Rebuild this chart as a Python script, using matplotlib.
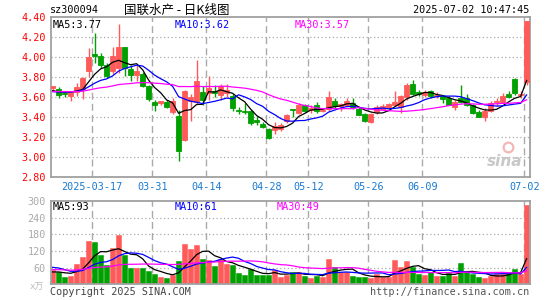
import matplotlib
matplotlib.use("Agg")
import matplotlib.pyplot as plt
import numpy as np
import pandas as pd

# ---------------- data ----------------
dates = ["03-06", "03-07", "03-10", "03-11", "03-12", "03-13", "03-14", "03-17", "03-18", "03-19",
         "03-20", "03-21", "03-24", "03-25", "03-26", "03-27", "03-28", "03-31", "04-01", "04-02",
         "04-03", "04-07", "04-08", "04-09", "04-10", "04-11", "04-14", "04-15", "04-16", "04-17",
         "04-18", "04-21", "04-22", "04-23", "04-24", "04-25", "04-28", "04-29", "04-30", "05-06",
         "05-07", "05-08", "05-09", "05-12", "05-13", "05-14", "05-15", "05-16", "05-19", "05-20",
         "05-21", "05-22", "05-23", "05-26", "05-27", "05-28", "05-29", "05-30", "06-03", "06-04",
         "06-05", "06-06", "06-09", "06-10", "06-11", "06-12", "06-13", "06-16", "06-17", "06-18",
         "06-19", "06-20", "06-23", "06-24", "06-25", "06-26", "06-27", "06-30", "07-01", "07-02"]

open_ = [3.69, 3.68, 3.64, 3.61, 3.65, 3.68, 3.86, 4.03, 4.01, 3.92,
         3.86, 3.89, 4.10, 3.88, 3.82, 3.83, 3.71, 3.55, 3.54, 3.55,
         3.45, 3.41, 3.17, 3.56, 3.55, 3.65, 3.64, 3.66, 3.62, 3.64,
         3.61, 3.47, 3.46, 3.46, 3.37, 3.33, 3.28, 3.27, 3.28, 3.36,
         3.48, 3.44, 3.52, 3.47, 3.52, 3.46, 3.48, 3.56, 3.51, 3.52,
         3.54, 3.48, 3.43, 3.35, 3.45, 3.48, 3.49, 3.52, 3.50, 3.60,
         3.73, 3.65, 3.62, 3.66, 3.61, 3.61, 3.59, 3.50, 3.59, 3.59,
         3.52, 3.45, 3.40, 3.46, 3.55, 3.55, 3.63, 3.78, 3.62, 3.75]
high = [3.71, 3.70, 3.66, 3.66, 3.74, 3.80, 4.09, 4.24, 4.04, 3.94,
        4.10, 4.33, 4.10, 3.92, 3.92, 3.85, 3.72, 3.57, 3.56, 3.57,
        3.59, 3.47, 3.67, 3.63, 3.97, 3.71, 3.81, 3.72, 3.73, 3.73,
        3.63, 3.50, 3.54, 3.47, 3.41, 3.35, 3.29, 3.35, 3.34, 3.43,
        3.48, 3.54, 3.53, 3.52, 3.55, 3.49, 3.66, 3.59, 3.54, 3.59,
        3.59, 3.50, 3.44, 3.44, 3.52, 3.53, 3.54, 3.66, 3.62, 3.74,
        3.77, 3.67, 3.67, 3.67, 3.65, 3.62, 3.61, 3.57, 3.72, 3.63,
        3.53, 3.47, 3.49, 3.56, 3.59, 3.64, 3.66, 3.79, 3.66, 4.36]
low = [3.66, 3.59, 3.60, 3.56, 3.61, 3.58, 3.80, 3.94, 3.89, 3.79,
       3.83, 3.84, 3.81, 3.76, 3.76, 3.70, 3.56, 3.46, 3.52, 3.49,
       3.43, 2.96, 3.16, 3.36, 3.53, 3.52, 3.57, 3.60, 3.57, 3.60,
       3.46, 3.43, 3.43, 3.32, 3.32, 3.29, 3.18, 3.23, 3.26, 3.34,
       3.40, 3.43, 3.45, 3.44, 3.44, 3.45, 3.46, 3.49, 3.46, 3.51,
       3.48, 3.42, 3.35, 3.34, 3.43, 3.47, 3.48, 3.51, 3.44, 3.57,
       3.62, 3.61, 3.60, 3.59, 3.59, 3.54, 3.52, 3.47, 3.54, 3.51,
       3.43, 3.40, 3.36, 3.45, 3.51, 3.54, 3.59, 3.62, 3.59, 3.72]
close = [3.71, 3.62, 3.63, 3.65, 3.70, 3.79, 4.00, 4.01, 3.92, 3.81,
         4.01, 4.10, 3.89, 3.82, 3.86, 3.71, 3.58, 3.52, 3.56, 3.50,
         3.56, 3.06, 3.66, 3.60, 3.76, 3.57, 3.69, 3.64, 3.71, 3.67,
         3.49, 3.46, 3.45, 3.34, 3.35, 3.30, 3.19, 3.31, 3.32, 3.42,
         3.47, 3.52, 3.46, 3.49, 3.46, 3.47, 3.60, 3.51, 3.53, 3.56,
         3.50, 3.42, 3.36, 3.43, 3.50, 3.51, 3.53, 3.55, 3.61, 3.72,
         3.63, 3.63, 3.65, 3.61, 3.62, 3.58, 3.52, 3.55, 3.55, 3.52,
         3.44, 3.40, 3.46, 3.54, 3.56, 3.61, 3.60, 3.64, 3.63, 4.36]
volume = [53, 45, 27, 31, 73, 99, 157, 154, 107, 70,
          131, 179, 105, 59, 59, 59, 49, 39, 27, 23,
          35, 85, 147, 129, 140, 93, 89, 65, 91, 73,
          71, 41, 33, 55, 35, 35, 35, 53, 27, 35,
          45, 45, 31, 23, 31, 27, 91, 63, 45, 45,
          31, 25, 25, 23, 37, 27, 27, 88, 63, 84,
          63, 39, 33, 45, 31, 31, 41, 31, 77, 49,
          36, 25, 22, 31, 37, 37, 45, 57, 37, 287]

# estimated sessions before the visible window (only feed the moving averages)
prev_close = [3.62, 3.64, 3.66, 3.70, 3.68, 3.65, 3.63, 3.60, 3.62, 3.66,
              3.69, 3.71, 3.68, 3.66, 3.64, 3.62, 3.65, 3.67, 3.70, 3.68,
              3.66, 3.64, 3.63, 3.65, 3.66, 3.67, 3.65, 3.64, 3.66]
prev_volume = [48, 52, 60, 45, 40, 55, 62, 50, 47, 44,
               58, 46, 52, 49, 41, 46, 53, 42, 38, 48,
               70, 85, 90, 72, 73, 45, 42, 40, 44]

tick_dates = ["03-17", "03-31", "04-14", "04-28", "05-12", "05-26", "06-09", "07-02"]
tick_labels = ["2025-03-17", "03-31", "04-14", "04-28", "05-12", "05-26", "06-09", "07-02"]
price_ticks = [2.80, 3.00, 3.20, 3.40, 3.60, 3.80, 4.00, 4.20, 4.40]
vol_ticks = [60, 120, 180, 240, 300]

# ---------------- styling ----------------
UP = "#ff5a5a"
DOWN = "#00a000"
MA_COLORS = {5: "black", 10: "#0000ff", 30: "#ff00ff"}
GRID = "#aaaaaa"
FRAME = "#a0a0a0"
MONO = "DejaVu Sans Mono"
FS = 7.3

W, H = 545, 300
fig = plt.figure(figsize=(W / 100, H / 100), dpi=100)
fig.patch.set_facecolor("white")


def fx(x):
    return x / W


def fy(y):
    return 1 - y / H


ax = fig.add_axes([fx(50.5), fy(177.3), 479 / W, 160 / H])
axv = fig.add_axes([fx(50.5), fy(284.4), 479 / W, 83.4 / H])

n = len(close)
x = np.arange(n)
o = np.array(open_)
c = np.array(close)
hi = np.array(high)
lo = np.array(low)
v = np.array(volume)
colors = [UP if cc >= oo else DOWN for oo, cc in zip(o, c)]

full_close = pd.Series(prev_close + close)
full_vol = pd.Series(prev_volume + volume)
off = len(prev_close)
ma_p = {k: full_close.rolling(k).mean().values[off:] for k in (5, 10, 30)}
ma_v = {k: full_vol.rolling(k).mean().values[off:] for k in (5, 10, 30)}

tick_pos = [dates.index(d) - 0.4 for d in tick_dates]
xlim = (-0.35, n - 1 + 0.48)

for a in (ax, axv):
    a.set_xlim(*xlim)
    a.set_facecolor("white")
    for s in a.spines.values():
        s.set_color(FRAME)
        s.set_linewidth(1.3)
    a.tick_params(length=0)
    a.set_axisbelow(True)

# ---- price panel ----
ax.set_ylim(2.80, 4.40)
for yv in price_ticks[1:-1]:
    ax.axhline(yv, color=GRID, lw=0.9, ls=(0, (1, 2)), zorder=0)
for tp in tick_pos:
    ax.axvline(tp, color=GRID, lw=1.0, ls=(0, (5, 3)), zorder=0)

ax.vlines(x, lo, hi, colors=colors, lw=1.0, zorder=2)
ax.bar(x, np.abs(c - o), bottom=np.minimum(o, c), width=0.8, color=colors,
       edgecolor=colors, linewidth=0.6, zorder=3)
for i in range(n):
    if abs(c[i] - o[i]) < 0.005:
        ax.hlines(c[i], i - 0.4, i + 0.4, colors=colors[i], lw=1.0, zorder=3)

for k in (5, 10, 30):
    ax.plot(x, ma_p[k], color=MA_COLORS[k], lw=0.9, zorder=4)

ax.set_yticks(price_ticks)
ax.set_yticklabels([f"{t:.2f}" for t in price_ticks], color="#ff0000",
                   fontfamily=MONO, fontsize=FS)
ax.tick_params(axis="y", pad=3.3)
ax.set_xticks(tick_pos)
ax.set_xticklabels(tick_labels, color="#1a7ad0", fontfamily=MONO, fontsize=FS)
ax.tick_params(axis="x", pad=3.6)

ax.text(0.005, 0.955, f"MA5:{ma_p[5][-1]:.2f}", transform=ax.transAxes,
        color="black", fontfamily=MONO, fontsize=FS, va="center", ha="left")
ax.text((175 - 50.5) / 479, 0.955, f"MA10:{ma_p[10][-1]:.2f}", transform=ax.transAxes,
        color="#0000ff", fontfamily=MONO, fontsize=FS, va="center", ha="left")
ax.text((295 - 50.5) / 479, 0.955, f"MA30:{ma_p[30][-1]:.2f}", transform=ax.transAxes,
        color="#ff00ff", fontfamily=MONO, fontsize=FS, va="center", ha="left")

# sina watermark
ax.text(0.985, 0.05, "sina", transform=ax.transAxes, ha="right", va="bottom",
        fontsize=11, fontweight="bold", fontstyle="italic", color="#c8c8c8",
        fontfamily="DejaVu Sans", zorder=1)
ax.plot([0.955], [0.19], transform=ax.transAxes, marker="o", ms=7, mfc="none",
        mec="#f2b8b8", mew=1.6, zorder=1)

# ---- volume panel ----
axv.set_ylim(0, 300)
for yv in vol_ticks[:-1]:
    axv.axhline(yv, color=GRID, lw=0.9, ls=(0, (1, 2)), zorder=0)
for tp in tick_pos:
    axv.axvline(tp, color=GRID, lw=1.0, ls=(0, (5, 3)), zorder=0)
axv.bar(x, v, width=0.8, color=colors, edgecolor=colors, linewidth=0.4, zorder=2)
for k in (5, 10, 30):
    axv.plot(x, ma_v[k], color=MA_COLORS[k], lw=0.9, zorder=4)
axv.set_yticks(vol_ticks)
axv.set_yticklabels([str(t) for t in vol_ticks], color="#aaaaaa",
                    fontfamily=MONO, fontsize=FS)
axv.tick_params(axis="y", pad=3.3)
axv.set_xticks(tick_pos)
axv.set_xticklabels([])

axv.text(0.005, 0.93, f"MA5:{ma_v[5][-1]:.0f}", transform=axv.transAxes,
         color="black", fontfamily=MONO, fontsize=FS, va="center", ha="left")
axv.text((175 - 50.5) / 479, 0.93, f"MA10:{ma_v[10][-1]:.0f}", transform=axv.transAxes,
         color="#0000ff", fontfamily=MONO, fontsize=FS, va="center", ha="left")
axv.text((276.5 - 50.5) / 479, 0.93, f"MA30:{ma_v[30][-1]:.0f}", transform=axv.transAxes,
         color="#ff00ff", fontfamily=MONO, fontsize=FS, va="center", ha="left")

# ---- figure-level texts ----
fig.text(fx(50), fy(10), "sz300094", fontfamily=MONO, fontsize=FS, color="black",
         ha="left", va="center")
fig.text(fx(177), fy(10), "国联水产 - 日K线图", family=["Noto Sans CJK SC", "DejaVu Sans"],
         fontsize=9, color="black", ha="center", va="center")
fig.text(fx(529.5), fy(10), "2025-07-02 10:47:45", fontfamily=MONO, fontsize=FS,
         color="black", ha="right", va="center")
fig.text(fx(44), fy(287), "x万", family=[MONO, "Noto Sans CJK SC"], fontsize=6.5,
         color="#bbbbbb", ha="right", va="center")
fig.text(fx(50), fy(292), "Copyright 2025 SINA.COM", fontfamily=MONO, fontsize=FS,
         color="#444444", ha="left", va="center")
fig.text(fx(529.5), fy(292), "http://finance.sina.com.cn", fontfamily=MONO, fontsize=FS,
         color="#555555", ha="right", va="center")

fig.savefig("out.png", dpi=100)
